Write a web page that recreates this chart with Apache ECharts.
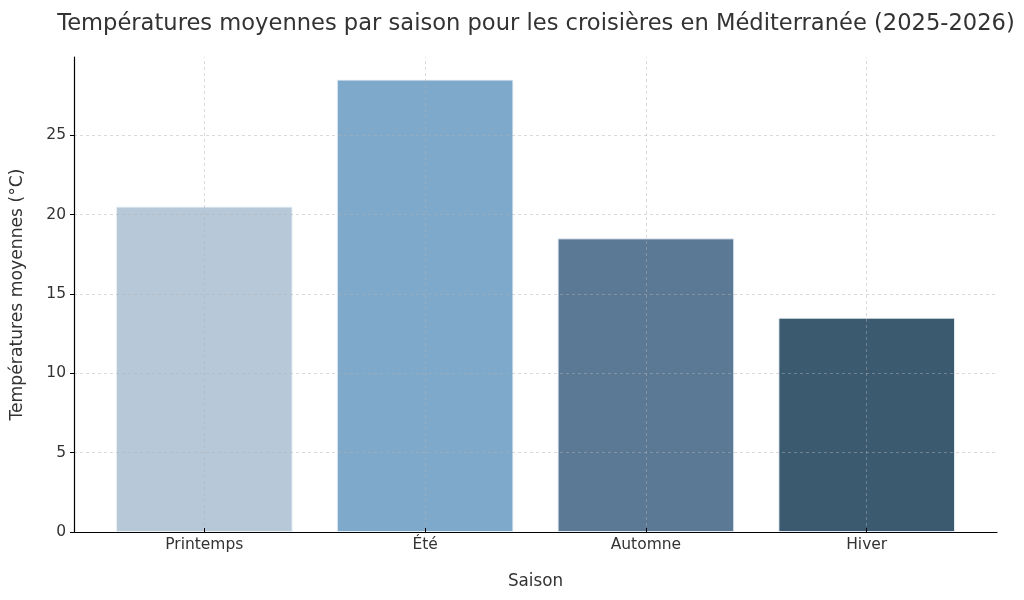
<!DOCTYPE html>
<html>
<head>
<meta charset="utf-8">
<script src="https://cdn.jsdelivr.net/npm/echarts@6/dist/echarts.min.js"></script>
<style>html,body{margin:0;padding:0;background:#fff}#c{width:1024px;height:600px}</style>
</head>
<body>
<div id="c"></div>
<script>
var categories = ['Printemps', 'Été', 'Automne', 'Hiver'];
var temperatures = [20.5, 28.5, 18.5, 13.5];
var barColors = ['#b7c9d9', '#7fa9ca', '#5b7994', '#3c5a6f'];
var yTicks = [0, 5, 10, 15, 20, 25];
var yMax = 29.925;

var font = 'DejaVu Sans';
var gridColor = 'rgba(176,176,176,0.6)';

var chart = echarts.init(document.getElementById('c'), null, {renderer: 'canvas'});

var plotL = 74, plotR = 997, plotT = 57, plotB = 532;
var span = 4 * 1.045; // category units incl. matplotlib margins
var catW = (plotR - plotL) / span;
var innerL = plotL + ((plotR - plotL) - 4 * catW) / 2;
var innerR = innerL + 4 * catW;

var vLines = categories.map(function (c) { return {xAxis: c}; });
var hLines = yTicks.slice(1).map(function (v) { return {yAxis: v}; });
var gridLineStyle = {color: gridColor, type: [3, 3], width: 0.8};

chart.setOption({
  animation: false,
  backgroundColor: '#fff',
  title: {
    text: 'Températures moyennes par saison pour les croisières en Méditerranée (2025-2026)',
    left: 531, top: 8, textAlign: 'center',
    textStyle: {fontFamily: font, fontSize: 22.6, fontWeight: 'normal', color: '#333'}
  },
  grid: [
    {left: plotL, right: 1024 - plotR, top: plotT, bottom: 600 - plotB},
    {left: innerL, right: 1024 - innerR, top: plotT, bottom: 600 - plotB}
  ],
  xAxis: [
    {
      type: 'value', gridIndex: 0, min: 0, max: 1, z: 5,
      axisLine: {show: true, lineStyle: {color: '#000', width: 1.2}},
      axisTick: {show: false}, axisLabel: {show: false}, splitLine: {show: false},
      name: 'Saison', nameLocation: 'middle', nameGap: 41,
      nameTextStyle: {fontFamily: font, fontSize: 16.8, color: '#333'}
    },
    {
      type: 'category', gridIndex: 1, data: categories, z: 5,
      axisLine: {show: false},
      axisTick: {show: true, alignWithLabel: true, inside: true, length: 4, lineStyle: {color: '#000'}},
      axisLabel: {fontFamily: font, fontSize: 15.5, color: '#333', margin: 5},
      splitLine: {show: false}
    }
  ],
  yAxis: [
    {
      type: 'value', gridIndex: 0, min: 0, max: yMax, interval: 5, z: 5,
      axisLine: {show: true, lineStyle: {color: '#000', width: 1.2}},
      axisTick: {show: true, length: 4, lineStyle: {color: '#000'}, customValues: yTicks},
      axisLabel: {
        fontFamily: font, fontSize: 15.5, color: '#333', margin: 8,
        customValues: yTicks,
        formatter: function (v) { return yTicks.indexOf(v) >= 0 ? String(v) : ''; }
      },
      splitLine: {show: false},
      name: 'Températures moyennes (°C)', nameLocation: 'middle', nameGap: 48, nameRotate: 90,
      nameTextStyle: {fontFamily: font, fontSize: 17.2, color: '#333'}
    },
    {
      type: 'value', gridIndex: 1, min: 0, max: yMax, show: false,
      splitLine: {show: false}
    }
  ],
  series: [{
    type: 'bar',
    xAxisIndex: 1, yAxisIndex: 1,
    barWidth: '80%',
    data: temperatures.map(function (v, i) {
      return {value: v, itemStyle: {color: barColors[i]}};
    }),
    itemStyle: {borderColor: 'rgba(235,242,248,0.9)', borderWidth: 1},
    markLine: {
      silent: true, symbol: 'none', label: {show: false},
      lineStyle: gridLineStyle, emphasis: {disabled: true},
      data: vLines
    }
  }, {
    type: 'line',
    xAxisIndex: 0, yAxisIndex: 0,
    data: [[0, 0]], showSymbol: false, symbol: 'none',
    lineStyle: {width: 0},
    markLine: {
      silent: true, symbol: 'none', label: {show: false},
      lineStyle: gridLineStyle, emphasis: {disabled: true},
      data: hLines
    }
  }]
});
</script>
</body>
</html>
